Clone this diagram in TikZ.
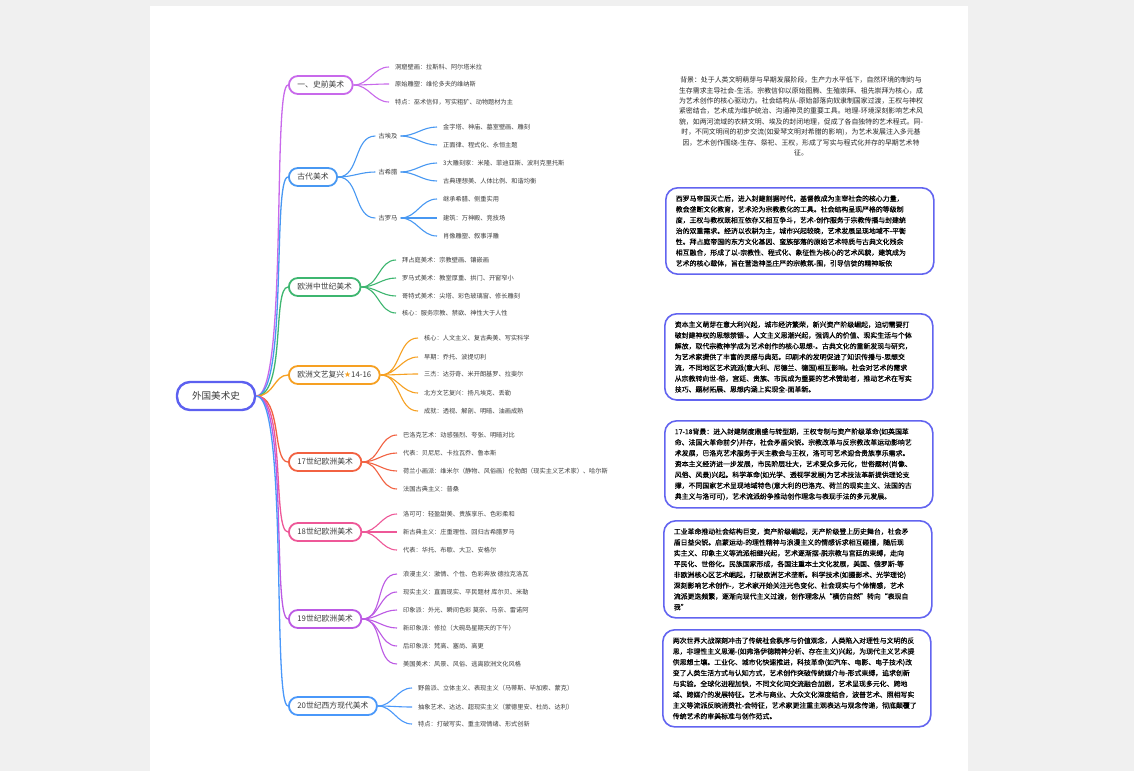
\documentclass[tikz,border=0pt]{standalone}
\usepackage{fontspec}
\setmainfont{Noto Sans CJK SC}
\newfontfamily\notefont[FakeBold=0.5]{Noto Sans CJK SC}
\newfontfamily\symfont{DejaVu Sans}
\usetikzlibrary{positioning}

\definecolor{pagebg}{RGB}{240,240,240}
\definecolor{rootc}{RGB}{92,96,240}
\definecolor{boxc}{RGB}{98,100,240}
\definecolor{cPre}{RGB}{200,105,235}
\definecolor{cAnc}{RGB}{72,152,242}
\definecolor{cMid}{RGB}{62,182,112}
\definecolor{cRen}{RGB}{246,160,34}
\definecolor{cSev}{RGB}{242,98,66}
\definecolor{cEig}{RGB}{238,88,152}
\definecolor{cNin}{RGB}{188,90,228}
\definecolor{cTwe}{RGB}{74,152,250}
\definecolor{txt}{RGB}{60,60,60}

\begin{document}
\begin{tikzpicture}[
    x=1pt, y=-1pt,
    root/.style={
        rectangle,
        draw=rootc,
        line width=2.4pt,
        fill=white,
        rounded corners=13pt,
        minimum width=78pt,
        minimum height=28pt,
        text=txt,
        font=\fontsize{9.6}{11}\selectfont
    },
    branch/.style={
        rectangle,
        line width=1.8pt,
        fill=white,
        rounded corners=9pt,
        minimum height=18pt,
        inner xsep=8.5pt,
        inner ysep=0pt,
        anchor=west,
        text=txt,
        font=\fontsize{7.8}{9}\selectfont
    },
    sub/.style={
        inner xsep=3pt,
        inner ysep=1pt,
        text=txt,
        font=\fontsize{6.3}{7}\selectfont
    },
    leaf/.style={
        anchor=west,
        inner xsep=6pt,
        inner ysep=1pt,
        text=txt,
        font=\fontsize{6.2}{7}\selectfont
    },
    limb/.style={line width=1.3pt},
    twig/.style={line width=1.1pt},
    note/.style={
        align=left,
        text width=248pt,
        inner xsep=10pt,
        inner ysep=7.5pt,
        anchor=north west,
        text=black,
        font=\notefont\fontsize{6.9}{10.8}\selectfont
    },
    notebox/.style={
        note,
        draw=boxc,
        line width=1.6pt,
        rounded corners=12pt
    }
]

    \useasboundingbox (0,0) rectangle (1134,771);
    \fill[pagebg] (0,0) rectangle (1134,771);
    \fill[white] (150,6) rectangle (968,771);

    % Root
    \node[root] (root) at (216,396) {外国美术史};

    % Main branches
    \node[branch, draw=cPre] (pre) at (288,85) {一、史前美术};
    \node[branch, draw=cAnc] (anc) at (288,177) {古代美术};
    \node[branch, draw=cMid] (mid) at (288,287) {欧洲中世纪美术};
    \node[branch, draw=cRen] (ren) at (288,375) {欧洲文艺复兴{\color{cRen}\symfont ★}14-16};
    \node[branch, draw=cSev] (sev) at (288,462) {17世纪欧洲美术};
    \node[branch, draw=cEig] (eig) at (288,532) {18世纪欧洲美术};
    \node[branch, draw=cNin] (nin) at (288,619) {19世纪欧洲美术};
    \node[branch, draw=cTwe] (twe) at (288,706) {20世纪西方现代美术};

    \draw[limb, cPre] (root.east) .. controls +(32,0) and +(-16,0) .. (pre.west);
    \draw[limb, cAnc] (root.east) .. controls +(32,0) and +(-16,0) .. (anc.west);
    \draw[limb, cMid] (root.east) .. controls +(30,0) and +(-16,0) .. (mid.west);
    \draw[limb, cRen] (root.east) .. controls +(18,0) and +(-14,0) .. (ren.west);
    \draw[limb, cSev] (root.east) .. controls +(26,0) and +(-16,0) .. (sev.west);
    \draw[limb, cEig] (root.east) .. controls +(30,0) and +(-16,0) .. (eig.west);
    \draw[limb, cNin] (root.east) .. controls +(32,0) and +(-16,0) .. (nin.west);
    \draw[limb, cTwe] (root.east) .. controls +(32,0) and +(-16,0) .. (twe.west);

    % Prehistoric
    \node[leaf] (pre1) at (389,67) {洞窟壁画：拉斯科、阿尔塔米拉};
    \node[leaf] (pre2) at (389,84) {原始雕塑：维伦多夫的维纳斯};
    \node[leaf] (pre3) at (389,102) {特点：巫术信仰，写实粗犷、动物题材为主};
    \draw[twig, cPre] (pre.east) to[out=0,in=180] (pre1.west);
    \draw[twig, cPre] (pre.east) to[out=0,in=180] (pre2.west);
    \draw[twig, cPre] (pre.east) to[out=0,in=180] (pre3.west);

    % Ancient
    \node[sub] (egy) at (388,136) {古埃及};
    \node[sub] (gre) at (388,172) {古希腊};
    \node[sub] (rom) at (388,218) {古罗马};
    \draw[twig, cAnc] (anc.east) to[out=0,in=180] (egy.west);
    \draw[twig, cAnc] (anc.east) to[out=0,in=180] (gre.west);
    \draw[twig, cAnc] (anc.east) to[out=0,in=180] (rom.west);

    \node[leaf] (egy1) at (437,127) {金字塔、神庙、墓室壁画、雕刻};
    \node[leaf] (egy2) at (437,145) {正面律、程式化、永恒主题};
    \node[leaf] (gre1) at (437,163) {3大雕刻家：米隆、菲迪亚斯、波利克里托斯};
    \node[leaf] (gre2) at (437,181) {古典理想美、人体比例、和谐均衡};
    \node[leaf] (rom1) at (437,199) {继承希腊、侧重实用};
    \node[leaf] (rom2) at (437,218) {建筑：万神殿、竞技场};
    \node[leaf] (rom3) at (437,236) {肖像雕塑、叙事浮雕};
    \draw[twig, cAnc] (egy.east) to[out=0,in=180] (egy1.west);
    \draw[twig, cAnc] (egy.east) to[out=0,in=180] (egy2.west);
    \draw[twig, cAnc] (gre.east) to[out=0,in=180] (gre1.west);
    \draw[twig, cAnc] (gre.east) to[out=0,in=180] (gre2.west);
    \draw[twig, cAnc] (rom.east) to[out=0,in=180] (rom1.west);
    \draw[twig, cAnc] (rom.east) to[out=0,in=180] (rom2.west);
    \draw[twig, cAnc] (rom.east) to[out=0,in=180] (rom3.west);

    % Middle Ages
    \node[leaf] (mid1) at (396,260) {拜占庭美术：宗教壁画、镶嵌画};
    \node[leaf] (mid2) at (396,278) {罗马式美术：教堂厚重、拱门、开窗窄小};
    \node[leaf] (mid3) at (396,296) {哥特式美术：尖塔、彩色玻璃窗、修长雕刻};
    \node[leaf] (mid4) at (396,313) {核心：服务宗教、禁欲、神性大于人性};
    \draw[twig, cMid] (mid.east) to[out=0,in=180] (mid1.west);
    \draw[twig, cMid] (mid.east) to[out=0,in=180] (mid2.west);
    \draw[twig, cMid] (mid.east) to[out=0,in=180] (mid3.west);
    \draw[twig, cMid] (mid.east) to[out=0,in=180] (mid4.west);

    % Renaissance
    \node[leaf] (ren1) at (418,338) {核心：人文主义、复古典美、写实科学};
    \node[leaf] (ren2) at (418,357) {早期：乔托、波提切利};
    \node[leaf] (ren3) at (418,374) {三杰：达芬奇、米开朗基罗、拉斐尔};
    \node[leaf] (ren4) at (418,393) {北方文艺复兴：扬凡埃克、丢勒};
    \node[leaf] (ren5) at (418,411) {成就：透视、解剖、明暗、油画成熟};
    \draw[twig, cRen] (ren.east) to[out=0,in=180] (ren1.west);
    \draw[twig, cRen] (ren.east) to[out=0,in=180] (ren2.west);
    \draw[twig, cRen] (ren.east) to[out=0,in=180] (ren3.west);
    \draw[twig, cRen] (ren.east) to[out=0,in=180] (ren4.west);
    \draw[twig, cRen] (ren.east) to[out=0,in=180] (ren5.west);

    % 17th century
    \node[leaf] (sev1) at (397,435) {巴洛克艺术：动感强烈、夸张、明暗对比};
    \node[leaf] (sev2) at (397,453) {代表：贝尼尼、卡拉瓦乔、鲁本斯};
    \node[leaf] (sev3) at (397,471) {荷兰小画派：维米尔（静物、风俗画）伦勃朗（现实主义艺术家）、哈尔斯};
    \node[leaf] (sev4) at (397,489) {法国古典主义：普桑};
    \draw[twig, cSev] (sev.east) to[out=0,in=180] (sev1.west);
    \draw[twig, cSev] (sev.east) to[out=0,in=180] (sev2.west);
    \draw[twig, cSev] (sev.east) to[out=0,in=180] (sev3.west);
    \draw[twig, cSev] (sev.east) to[out=0,in=180] (sev4.west);

    % 18th century
    \node[leaf] (eig1) at (397,514) {洛可可：轻盈甜美、贵族享乐、色彩柔和};
    \node[leaf] (eig2) at (397,532) {新古典主义：庄重理性、回归古希腊罗马};
    \node[leaf] (eig3) at (397,550) {代表：华托、布歇、大卫、安格尔};
    \draw[twig, cEig] (eig.east) to[out=0,in=180] (eig1.west);
    \draw[twig, cEig] (eig.east) to[out=0,in=180] (eig2.west);
    \draw[twig, cEig] (eig.east) to[out=0,in=180] (eig3.west);

    % 19th century
    \node[leaf] (nin1) at (397,574) {浪漫主义：激情、个性、色彩奔放 德拉克洛瓦};
    \node[leaf] (nin2) at (397,592) {现实主义：直面现实、平民题材 库尔贝、米勒};
    \node[leaf] (nin3) at (397,610) {印象派：外光、瞬间色彩 莫奈、马奈、雷诺阿};
    \node[leaf] (nin4) at (397,628) {新印象派：修拉（大碗岛星期天的下午）};
    \node[leaf] (nin5) at (397,646) {后印象派：梵高、塞尚、高更};
    \node[leaf] (nin6) at (397,664) {美国美术：风景、风俗、逃离欧洲文化风格};
    \draw[twig, cNin] (nin.east) to[out=0,in=180] (nin1.west);
    \draw[twig, cNin] (nin.east) to[out=0,in=180] (nin2.west);
    \draw[twig, cNin] (nin.east) to[out=0,in=180] (nin3.west);
    \draw[twig, cNin] (nin.east) to[out=0,in=180] (nin4.west);
    \draw[twig, cNin] (nin.east) to[out=0,in=180] (nin5.west);
    \draw[twig, cNin] (nin.east) to[out=0,in=180] (nin6.west);

    % 20th century
    \node[leaf] (twe1) at (412,688) {野兽派、立体主义、表现主义（马蒂斯、毕加索、蒙克）};
    \node[leaf] (twe2) at (412,707) {抽象艺术、达达、超现实主义（蒙德里安、杜尚、达利）};
    \node[leaf] (twe3) at (412,724) {特点：打破写实、重主观情绪、形式创新};
    \draw[twig, cTwe] (twe.east) to[out=0,in=180] (twe1.west);
    \draw[twig, cTwe] (twe.east) to[out=0,in=180] (twe2.west);
    \draw[twig, cTwe] (twe.east) to[out=0,in=180] (twe3.west);

    % Background notes
    \node[align=center, text=black!85, font=\fontsize{6.9}{10.45}\selectfont] (bgpre) at (801,116.5) {背景：处于人类文明萌芽与早期发展阶段，生产力水平低下，自然环境的制约与\\生存需求主导社会-生活。宗教信仰以原始图腾、生殖崇拜、祖先崇拜为核心，成\\为艺术创作的核心驱动力。社会结构从-原始部落向奴隶制国家过渡，王权与神权\\紧密结合，艺术成为维护统治、沟通神灵的重要工具。地理-环境深刻影响艺术风\\貌，如两河流域的农耕文明、埃及的封闭地理，促成了各自独特的艺术程式。同-\\时，不同文明间的初步交流(如爱琴文明对希腊的影响)，为艺术发展注入多元基\\因，艺术创作围绕-生存、祭祀、王权，形成了写实与程式化并存的早期艺术特\\征。};

    \node[notebox] (bgmid) at (665,187) {西罗马帝国灭亡后，进入封建割据时代，基督教成为主宰社会的核心力量，\\教会垄断文化教育，艺术沦为宗教教化的工具。社会结构呈现严格的等级制\\度，王权与教权既相互依存又相互争斗，艺术-创作服务于宗教传播与封建统\\治的双重需求。经济以农耕为主，城市兴起较晚，艺术发展呈现地域不-平衡\\性。拜占庭帝国的东方文化基因、蛮族部落的原始艺术特质与古典文化残余\\相互融合，形成了以-宗教性、程式化、象征性为核心的艺术风貌，建筑成为\\艺术的核心载体，旨在营造神圣庄严的宗教氛-围，引导信徒的精神皈依};

    \node[notebox] (bgren) at (664,313) {资本主义萌芽在意大利兴起，城市经济繁荣，新兴资产阶级崛起，迫切需要打\\破封建神权的思想禁锢-。人文主义思潮兴起，强调人的价值、现实生活与个体\\解放，取代宗教神学成为艺术创作的核心思想-。古典文化的重新发现与研究，\\为艺术家提供了丰富的灵感与典范。印刷术的发明促进了知识传播与-思想交\\流，不同地区艺术流派(意大利、尼德兰、德国)相互影响。社会对艺术的需求\\从宗教转向世-俗，宫廷、贵族、市民成为重要的艺术赞助者，推动艺术在写实\\技巧、题材拓展、思想内涵上实现全-面革新。};

    \node[notebox] (bgsev) at (664,420) {17-18背景：进入封建制度鼎盛与转型期，王权专制与资产阶级革命(如英国革\\命、法国大革命前夕)并存，社会矛盾尖锐。宗教改革与反宗教改革运动影响艺\\术发展，巴洛克艺术服务于天主教会与王权，洛可可艺术迎合贵族享乐需求。\\资本主义经济进一步发展，市民阶层壮大，艺术受众多元化，世俗题材(肖像、\\风俗、风景)兴起。科学革命(如光学、透视学发展)为艺术技法革新提供理论支\\撑，不同国家艺术呈现地域特色(意大利的巴洛克、荷兰的现实主义、法国的古\\典主义与洛可可)，艺术流派纷争推动创作理念与表现手法的多元发展。};

    \node[notebox] (bgnin) at (663,520) {工业革命推动社会结构巨变，资产阶级崛起，无产阶级登上历史舞台，社会矛\\盾日益尖锐。启蒙运动-的理性精神与浪漫主义的情感诉求相互碰撞，随后现\\实主义、印象主义等流派相继兴起，艺术逐渐摆-脱宗教与宫廷的束缚，走向\\平民化、世俗化。民族国家形成，各国注重本土文化发展，美国、俄罗斯-等\\非欧洲核心区艺术崛起，打破欧洲艺术垄断。科学技术(如摄影术、光学理论)\\深刻影响艺术创作-，艺术家开始关注光色变化、社会现实与个体情感，艺术\\流派更迭频繁，逐渐向现代主义过渡，创作理念从“模仿自然”转向“表现自\\我”};

    \node[notebox] (bgtwe) at (662,629) {两次世界大战深刻冲击了传统社会秩序与价值观念，人类陷入对理性与文明的反\\思，非理性主义思潮-(如弗洛伊德精神分析、存在主义)兴起，为现代主义艺术提\\供思想土壤。工业化、城市化快速推进，科技革命(如汽车、电影、电子技术)改\\变了人类生活方式与认知方式，艺术创作突破传统媒介与-形式束缚，追求创新\\与实验。全球化进程加快，不同文化间交流融合加剧，艺术呈现多元化、跨地\\域、跨媒介的发展特征。艺术与商业、大众文化深度结合，波普艺术、照相写实\\主义等流派反映消费社-会特征，艺术家更注重主观表达与观念传递，彻底颠覆了\\传统艺术的审美标准与创作范式。};

\end{tikzpicture}
\end{document}
